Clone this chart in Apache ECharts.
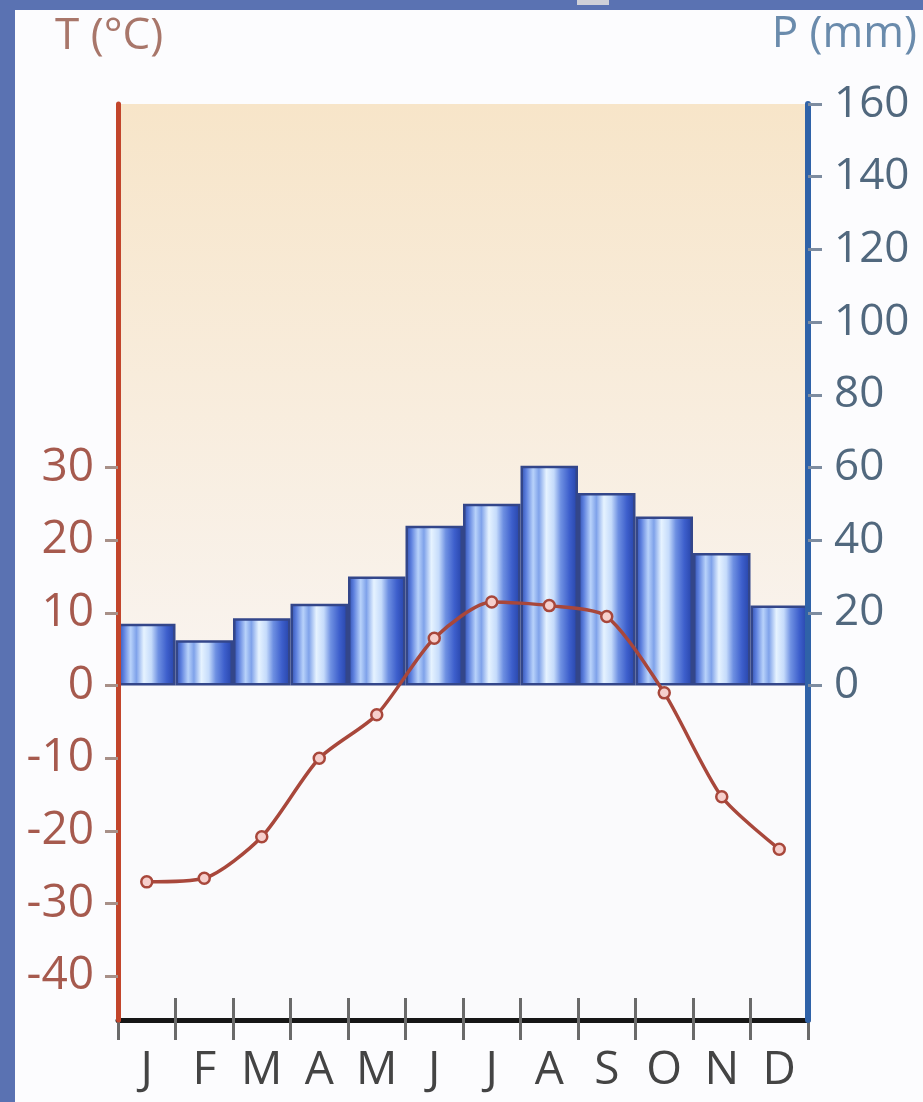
<!DOCTYPE html>
<html>
<head>
<meta charset="utf-8">
<script src="https://cdn.jsdelivr.net/npm/echarts@6/dist/echarts.min.js"></script>
<style>
html,body{margin:0;padding:0;background:#fcfcfe;}
#c{width:923px;height:1102px;}
</style>
</head>
<body>
<div id="c"></div>
<script>
const months = ['J','F','M','A','M','J','J','A','S','O','N','D'];
const temperature = [-27, -26.5, -20.8, -10, -4, 6.5, 11.5, 11, 9.5, -1, -15.3, -22.5];
const precipitation = [17, 12.5, 18.5, 22.5, 30, 44, 50, 60.5, 53, 46.5, 36.5, 22];
const tempTicks = [-40, -30, -20, -10, 0, 10, 20, 30];
const precipTicks = [0, 20, 40, 60, 80, 100, 120, 140, 160];

const chart = echarts.init(document.getElementById('c'));
const font = 'Open Sans';
const barGrad = new echarts.graphic.LinearGradient(0, 0, 1, 0, [
  {offset: 0, color: '#2a48aa'},
  {offset: 0.1, color: '#5d80de'},
  {offset: 0.22, color: '#b8d2fa'},
  {offset: 0.32, color: '#7fa2ea'},
  {offset: 0.45, color: '#e6f3ff'},
  {offset: 0.58, color: '#c5dbfb'},
  {offset: 0.7, color: '#6e90e2'},
  {offset: 0.85, color: '#3d5fcc'},
  {offset: 1, color: '#2542a6'}
]);
chart.setOption({
  backgroundColor: '#fcfcfe',
  animation: false,
  grid: {left: 118, right: 115, top: 104, bottom: 82, containLabel: false},
  xAxis: [{
    type: 'category', data: months, position: 'bottom', z: 20,
    axisLine: {show: true, onZero: false, lineStyle: {color: '#161616', width: 5}},
    axisTick: {show: true, alignWithLabel: false, length: 20, lineStyle: {color: '#6a6a6a', width: 3}},
    axisLabel: {color: '#444', fontSize: 46, fontFamily: font, margin: 28}
  }, {
    type: 'category', data: months, position: 'bottom', z: 20,
    axisLine: {show: false, onZero: false},
    axisTick: {show: true, inside: true, length: 22, lineStyle: {color: '#6a6a6a', width: 3}},
    axisLabel: {show: false}
  }],
  yAxis: [{
    type: 'value', min: -46, max: 80, position: 'left', z: 21,
    axisLine: {show: true, lineStyle: {color: '#c2452b', width: 5}},
    axisTick: {show: true, length: 13, customValues: tempTicks, lineStyle: {color: '#a89088', width: 3}},
    axisLabel: {customValues: tempTicks, color: '#a65a4e', fontSize: 46, fontFamily: font, margin: 24},
    splitLine: {show: false}
  }, {
    type: 'value', min: -92, max: 160, position: 'right', z: 21,
    axisLine: {show: true, lineStyle: {color: '#2f62a8', width: 6}},
    axisTick: {show: true, length: 14, customValues: precipTicks, lineStyle: {color: '#7d8ca0', width: 3}},
    axisLabel: {customValues: precipTicks, color: '#51687e', fontSize: 44, fontFamily: font, margin: 26},
    splitLine: {show: false}
  }],
  graphic: [
    {type: 'rect', shape: {x: 0, y: 0, width: 923, height: 10}, style: {fill: '#5a72b2'}, z: 100},
    {type: 'rect', shape: {x: 0, y: 0, width: 15, height: 1102}, style: {fill: '#5a72b2'}, z: 100},
    {type: 'rect', shape: {x: 577, y: 0, width: 32, height: 5}, style: {fill: '#cfd0d8'}, z: 101},
    {type: 'text', left: 55, top: 14, style: {text: 'T (°C)', fill: '#a8766a', font: '44px "Open Sans"'}, z: 100},
    {type: 'text', right: 6, top: 12, style: {text: 'P (mm)', fill: '#6a8bac', font: '44px "Open Sans"'}, z: 100}
  ],
  series: [{
    name: 'bg', type: 'line', yAxisIndex: 1, data: [], z: 0, silent: true,
    markArea: {
      silent: true,
      data: [
        [{yAxis: 0, itemStyle: {color: new echarts.graphic.LinearGradient(0, 0, 0, 1, [
          {offset: 0, color: '#f7e5c9'}, {offset: 1, color: '#f9f4f0'}])}}, {yAxis: 160}],
        [{yAxis: -92, itemStyle: {color: '#fafafc'}}, {yAxis: 0}]
      ]
    }
  }, {
    name: 'P', type: 'bar', yAxisIndex: 1, data: precipitation, z: 2,
    barCategoryGap: '0%',
    itemStyle: {color: barGrad, borderColor: '#33468a', borderWidth: 2.5}
  }, {
    name: 'T', type: 'line', yAxisIndex: 0, data: temperature, z: 3,
    smooth: 0.25,
    symbol: 'circle', symbolSize: 11,
    lineStyle: {color: '#a8473b', width: 3.5},
    itemStyle: {color: '#f6cfcc', borderColor: '#a8473b', borderWidth: 2.5}
  }]
});
</script>
</body>
</html>
